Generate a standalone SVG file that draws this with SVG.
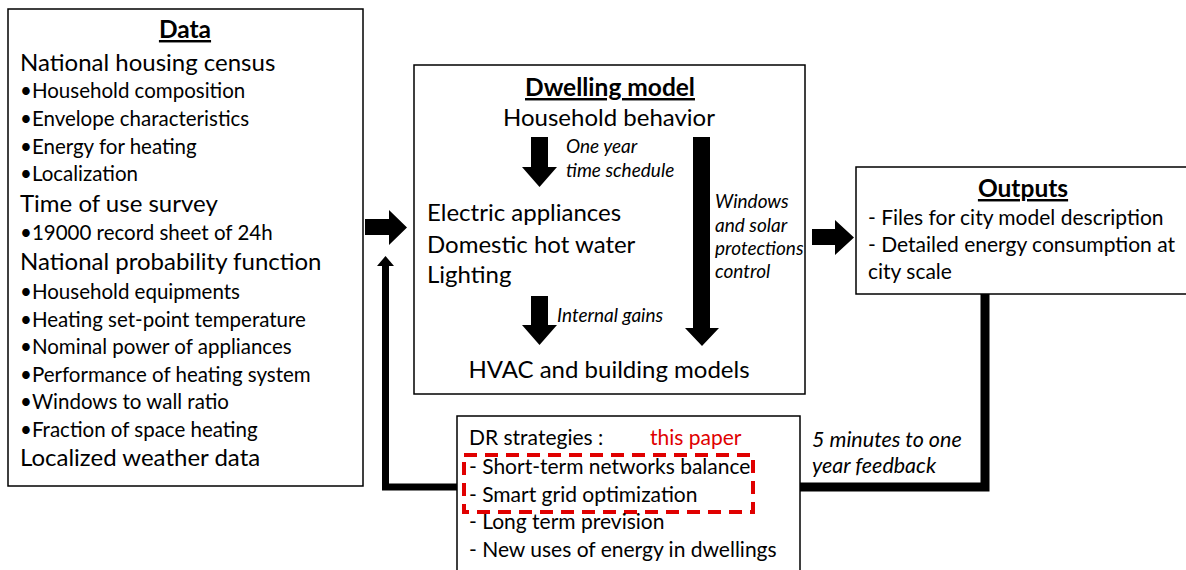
<svg xmlns="http://www.w3.org/2000/svg" width="1186" height="570" viewBox="0 0 1186 570">
<style>
.box{fill:#fff;stroke:#000;stroke-width:1.5}
text{font-family:Lato,"Liberation Sans",sans-serif;fill:#000}
.t{font-weight:bold;font-size:24.5px;text-decoration:underline;text-anchor:middle}
.h{font-size:24px}
.b{font-size:20.5px}
.i{font-style:italic;font-size:19px}
.o{font-size:21px}
.c{text-anchor:middle}
.red{fill:#e00000}
</style>
<rect width="1186" height="570" fill="#fff"/>
<g id="data">
<rect class="box" x="8" y="9" width="355" height="477"/>
<text class="t" x="185" y="38">Data</text>
<text class="h" x="20" y="71">National housing census</text>
<text class="b" x="20" y="98">•Household composition</text>
<text class="b" x="20" y="126">•Envelope characteristics</text>
<text class="b" x="20" y="154">•Energy for heating</text>
<text class="b" x="20" y="181">•Localization</text>
<text class="h" x="20" y="212">Time of use survey</text>
<text class="b" x="20" y="240">•19000 record sheet of 24h</text>
<text class="h" x="20" y="270">National probability function</text>
<text class="b" x="20" y="299">•Household equipments</text>
<text class="b" x="20" y="327">•Heating set-point temperature</text>
<text class="b" x="20" y="354">•Nominal power of appliances</text>
<text class="b" x="20" y="382">•Performance of heating system</text>
<text class="b" x="20" y="409">•Windows to wall ratio</text>
<text class="b" x="20" y="437">•Fraction of space heating</text>
<text class="h" x="20" y="466">Localized weather data</text>
</g>
<g id="dwelling">
<rect class="box" x="414" y="65" width="391" height="329"/>
<text class="t" x="610" y="96">Dwelling  model</text>
<text class="h c" x="609" y="126">Household behavior</text>
<text class="i" x="566" y="153">One year</text>
<text class="i" x="566" y="177">time schedule</text>
<text class="h" x="427" y="221">Electric appliances</text>
<text class="h" x="427" y="253">Domestic hot water</text>
<text class="h" x="427" y="283">Lighting</text>
<text class="i" x="557" y="322">Internal gains</text>
<text class="i" x="715" y="208">Windows</text>
<text class="i" x="715" y="232">and solar</text>
<text class="i" x="715" y="255">protections</text>
<text class="i" x="715" y="278">control</text>
<text class="h c" x="609" y="378">HVAC and building models</text>
</g>
<g id="outputs">
<rect class="box" x="856" y="167" width="332" height="127"/>
<text class="t" x="1023" y="197">Outputs</text>
<text class="o" x="868" y="225">- Files for city model description</text>
<text class="o" x="868" y="252">- Detailed energy consumption at</text>
<text class="o" x="868" y="279">city scale</text>
</g>
<g id="feedback-label">
<text class="i" x="812" y="447" style="font-size:21.5px">5 minutes to one</text>
<text class="i" x="812" y="473" style="font-size:21.5px">year feedback</text>
</g>
<g id="dr">
<rect class="box" x="457" y="416" width="343" height="160"/>
<text class="o" x="469" y="445">DR strategies :</text>
<text class="o red" x="650" y="445">this paper</text>
<rect x="464" y="455" width="289" height="57" fill="none" stroke="#e00000" stroke-width="4" stroke-dasharray="13,8"/>
<text class="o" x="469" y="474">- Short-term networks balance</text>
<text class="o" x="469" y="502">- Smart grid optimization</text>
<text class="o" x="469" y="529">- Long term prevision</text>
<text class="o" x="469" y="557">- New uses of energy in dwellings</text>
</g>
<g id="connectors" fill="#000">
<polygon points="365,219 389,219 389,210 407,227.5 389,245 389,235 365,235"/>
<polygon points="812,229 835,229 835,220 854,237.5 835,255 835,245 812,245"/>
<polyline points="457,487 385.5,487 385.5,264" fill="none" stroke="#000" stroke-width="7"/>
<polygon points="377,266 385.5,256 394,266"/>
<polyline points="985,294 985,487 800,487" fill="none" stroke="#000" stroke-width="9"/>
<polygon points="531,137 548,137 548,167 557,167 539.5,187 522,167 531,167"/>
<polygon points="531,296 548,296 548,325 557,325 539.5,345 522,325 531,325"/>
<polygon points="693,137 710,137 710,328 719,328 702,346 685,328 693,328"/>
</g>
</svg>
